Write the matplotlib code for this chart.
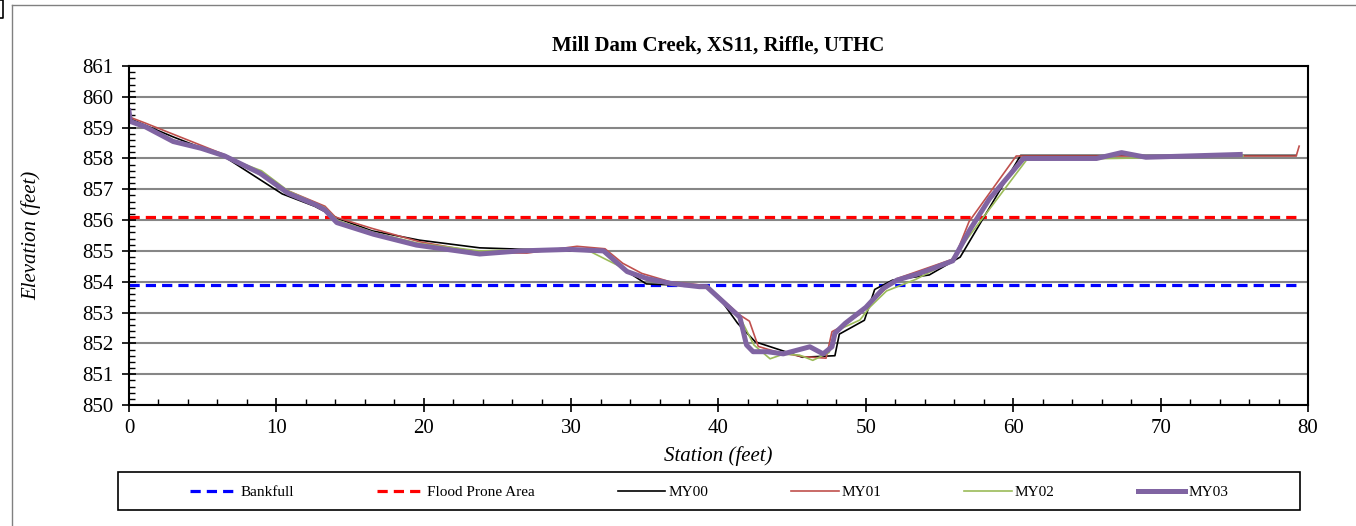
import matplotlib
matplotlib.use("Agg")
import matplotlib.pyplot as plt
from matplotlib.lines import Line2D
from matplotlib.patches import Rectangle
from matplotlib.ticker import MultipleLocator

plt.rcParams["font.family"] = ["Liberation Serif", "DejaVu Serif"]

# ================= Daten =================
title = "Mill Dam Creek, XS11, Riffle, UTHC"

bankfull_x = [0, 79.2]
bankfull_y = [853.88, 853.88]
flood_x = [0, 79.2]
flood_y = [856.11, 856.11]

my00_x = [0, 1, 3, 6.5, 10.4, 12.6, 14.2, 16.5, 19.7, 23.8, 27, 30, 32.2, 33.8, 35.1,
          36.7, 38.7, 39.2, 40.1, 41.3, 42.5, 45.7, 47.9, 48.2, 49.9, 50.6, 51.8, 54.3,
          56.4, 60.5, 79.2]
my00_y = [859.3, 859.1, 858.7, 858.05, 856.85, 856.45, 856.05, 855.65, 855.35, 855.1,
          855.05, 855.0, 854.98, 854.33, 853.93, 853.9, 853.85, 853.85, 853.45, 852.65,
          852.05, 851.55, 851.6, 852.3, 852.75, 853.75, 854.05, 854.22, 854.8, 858.1, 858.1]

my01_x = [0, 1.1, 6.5, 7.2, 10.8, 13.3, 14.0, 16.5, 19.7, 23.8, 27.0, 30.4, 32.3, 33.5,
          34.8, 36.7, 38.7, 39.2, 41.45, 42.1, 42.7, 43.9, 45.7, 47.3, 47.7, 48.1, 49.6,
          50.5, 51.4, 52.1, 56.0, 57.0, 60.2, 79.2, 79.4]
my01_y = [859.35, 859.15, 858.12, 857.95, 856.95, 856.45, 856.1, 855.73, 855.3, 854.95,
          854.93, 855.15, 855.07, 854.6, 854.27, 854.0, 853.9, 853.88, 852.92, 852.72,
          851.9, 851.73, 851.57, 851.52, 852.38, 852.48, 852.95, 853.4, 853.8, 854.1,
          854.75, 855.95, 858.08, 858.08, 858.4]

my02_x = [0, 1, 3, 6.5, 9, 10.8, 13.3, 14.1, 16.6, 19.6, 23.8, 27, 30.3, 31.3, 33.8,
          35.1, 36.7, 38.7, 39.2, 41.45, 42.4, 43.5, 44.4, 45.5, 46.4, 47.5, 48.1, 49.6,
          50.3, 51.4, 53.4, 55.7, 60.9, 75.6]
my02_y = [859.25, 859.05, 858.6, 858.05, 857.6, 856.95, 856.4, 856.0, 855.6, 855.25,
          855.0, 855.05, 855.05, 854.98, 854.38, 854.08, 853.95, 853.85, 853.85, 852.85,
          851.95, 851.5, 851.65, 851.62, 851.45, 851.7, 852.43, 852.76, 853.19, 853.7,
          854.08, 854.65, 857.95, 858.08]

my03_x = [0, 0.1, 1.1, 3.0, 4.9, 6.5, 8.9, 10.8, 12.7, 13.3, 14.1, 16.6, 19.5, 23.8,
          26.5, 29.9, 32.2, 33.8, 35.1, 36.7, 38.7, 39.2, 41.45, 41.9, 42.35, 43.3, 44.4,
          46.2, 47.1, 47.7, 47.9, 48.6, 50.0, 51.2, 52.1, 53.5, 54.6, 55.9, 57.05, 58.4,
          60.7, 65.65, 67.35, 69.0, 75.4]
my03_y = [859.55, 859.2, 859.03, 858.55, 858.33, 858.08, 857.52, 856.87, 856.49, 856.33,
          855.92, 855.54, 855.19, 854.9, 855.0, 855.05, 855.0, 854.33, 854.11, 853.95,
          853.84, 853.84, 852.85, 851.95, 851.73, 851.73, 851.66, 851.89, 851.66, 851.89,
          852.33, 852.65, 853.17, 853.79, 854.05, 854.25, 854.44, 854.68, 855.68, 856.7,
          858.0, 858.0, 858.19, 858.04, 858.13]

# ================= Plot =================
fig = plt.figure(figsize=(13.56, 5.26), dpi=100)
ax = fig.add_axes([0.0951, 0.2300, 0.8695, 0.6445])

ax.plot(bankfull_x, bankfull_y, color="#0000FF", lw=2.3, ls=(0, (3.2, 1.9)), label="Bankfull")
ax.plot(flood_x, flood_y, color="#FF0000", lw=2.3, ls=(0, (3.2, 1.9)), label="Flood Prone Area")
ax.plot(my00_x, my00_y, color="black", lw=1.2, label="MY00")
ax.plot(my01_x, my01_y, color="#C0504D", lw=1.2, label="MY01")
ax.plot(my02_x, my02_y, color="#9BBB59", lw=1.2, label="MY02")
ax.plot(my03_x, my03_y, color="#8064A2", lw=3.6, label="MY03")

ax.set_xlim(0, 80)
ax.set_ylim(850, 861)
ax.xaxis.set_major_locator(MultipleLocator(10))
ax.xaxis.set_minor_locator(MultipleLocator(2))
ax.yaxis.set_major_locator(MultipleLocator(1))
ax.yaxis.set_minor_locator(MultipleLocator(0.2))
ax.tick_params(which="major", direction="inout", length=10, width=1.2, labelsize=15)
ax.tick_params(which="minor", direction="in", length=4, width=1.0)
ax.tick_params(axis="x", pad=5)
ax.tick_params(axis="y", pad=6)
ax.grid(True, which="major", axis="y", color="#868686", lw=1.5)
ax.set_axisbelow(True)
for s in ax.spines.values():
    s.set_color("black")
    s.set_linewidth(1.5)

fig.text(718 / 1356, 1 - 46 / 526, title, fontsize=15, fontweight="bold",
         ha="center", va="center")
ax.set_xlabel("Station (feet)", fontsize=15, style="italic")
ax.set_ylabel("Elevation (feet)", fontsize=15, style="italic")
ax.xaxis.set_label_coords(0.5, -0.122)
ax.yaxis.set_label_coords(-0.074, 0.5)

# Legende unten mit eigenem Rahmen
fig.patches.append(Rectangle((118 / 1356, 1 - 510 / 526), (1300 - 118) / 1356, 38 / 526,
                             transform=fig.transFigure, fill=False, ec="black", lw=1.2))
handles, labels = ax.get_legend_handles_labels()
fig.legend(handles, labels, ncol=6, mode="expand", frameon=False, fontsize=11,
           handlelength=3.1, handletextpad=0.2, borderpad=0, borderaxespad=0,
           bbox_to_anchor=(190 / 1356, 1 - 500 / 526, (1228 - 190) / 1356, 16 / 526),
           loc="center")

# Rahmen um Diagrammbereich
fig.add_artist(Line2D([12 / 1356, 12 / 1356], [0, 1 - 5 / 526], transform=fig.transFigure,
                      color="#808080", lw=1))
fig.add_artist(Line2D([12 / 1356, 1], [1 - 5 / 526, 1 - 5 / 526], transform=fig.transFigure,
                      color="#808080", lw=1))
fig.add_artist(Line2D([0, 3 / 1356, 3 / 1356, 0], [1, 1, 1 - 18 / 526, 1 - 18 / 526],
                      transform=fig.transFigure, color="black", lw=1.2))

fig.savefig("out.png", dpi=100)
plt.close()
